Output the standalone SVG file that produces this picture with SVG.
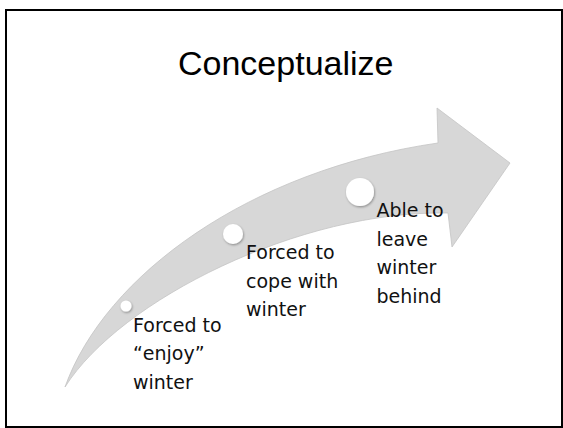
<svg xmlns="http://www.w3.org/2000/svg" width="563" height="428" viewBox="0 0 563 428">
<defs>
<filter id="sh" x="-50%" y="-50%" width="200%" height="200%">
<feDropShadow dx="0.8" dy="1.2" stdDeviation="0.9" flood-color="#000" flood-opacity="0.35"/>
</filter>
</defs>
<style>
.lbl{font-family:"DejaVu Sans",Verdana,sans-serif;font-size:19px;fill:#111}
.title{font-family:"Liberation Sans",Arial,sans-serif;font-size:34px;fill:#000}
.dot{fill:#fff;filter:url(#sh)}
</style>
<rect x="6" y="10" width="556" height="417" fill="#fff" stroke="#000" stroke-width="2"/>
<text class="title" x="178" y="75">Conceptualize</text>
<g id="connectors">
<path id="arrow" d="M65,387 C105,275 250,170 438,143 L437,108 L510,163 L452,247 L448,213 C300,210 120,300 65,387 Z" fill="#d7d7d7" stroke="#c4c4c4" stroke-width="0.8" stroke-linejoin="miter"/>
</g>
<g id="node1">
<circle class="dot" cx="126" cy="306" r="5.5"/>
<text class="lbl" x="133" y="331.5">Forced to</text>
<text class="lbl" x="133" y="360">“enjoy”</text>
<text class="lbl" x="133" y="388.5">winter</text>
</g>
<g id="node2">
<circle class="dot" cx="233" cy="234" r="10"/>
<text class="lbl" x="246" y="259">Forced to</text>
<text class="lbl" x="246" y="287.5">cope with</text>
<text class="lbl" x="246" y="316">winter</text>
</g>
<g id="node3">
<circle class="dot" cx="360" cy="192" r="14"/>
<text class="lbl" x="376.5" y="217">Able to</text>
<text class="lbl" x="376.5" y="245.5">leave</text>
<text class="lbl" x="376.5" y="274">winter</text>
<text class="lbl" x="376.5" y="302.5">behind</text>
</g>
</svg>
